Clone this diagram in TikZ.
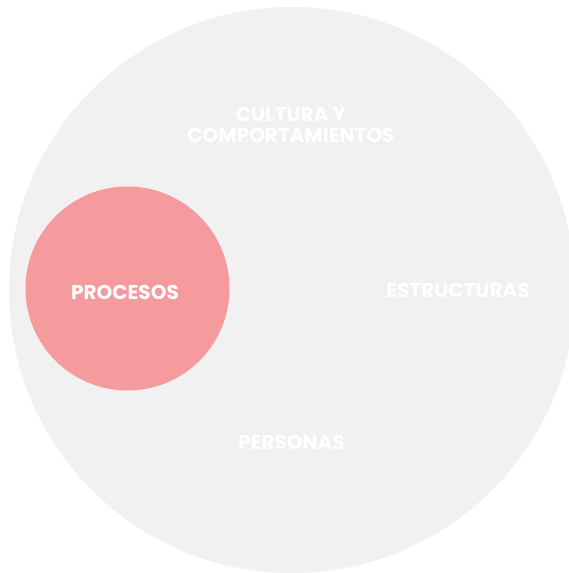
\documentclass[tikz,border=0pt]{standalone}
\usepackage{fontspec}
\setmainfont{Poppins}
\usepackage{xcolor}
\usepackage{tikz}
\usetikzlibrary{positioning}
\definecolor{fondogris}{RGB}{241,241,241}
\definecolor{rosa}{RGB}{245,154,157}

\begin{document}
\begin{tikzpicture}[
    x=1pt, y=-1pt,
    zona/.style={circle, inner sep=0pt, minimum size=#1},
    etiqueta/.style={font=\fontsize{20}{20.5}\selectfont\bfseries, text=white, align=center}
]
\useasboundingbox (0,0) rectangle (569,573);
\fill[fondogris] (292,290) circle[radius=283];
\node[zona=204pt, fill=rosa] (procesos) at (127.5,288.5) {};

% Etiquetas
\node[etiqueta] (cultura) at (291,125) {CULTURA Y\\COMPORTAMIENTOS};
\node[etiqueta] (estructuras) at (458,290.5) {ESTRUCTURAS};
\node[etiqueta] (personas) at (291.5,442.5) {PERSONAS};
\node[etiqueta] (procesostxt) at (125,292.5) {PROCESOS};
\end{tikzpicture}
\end{document}
